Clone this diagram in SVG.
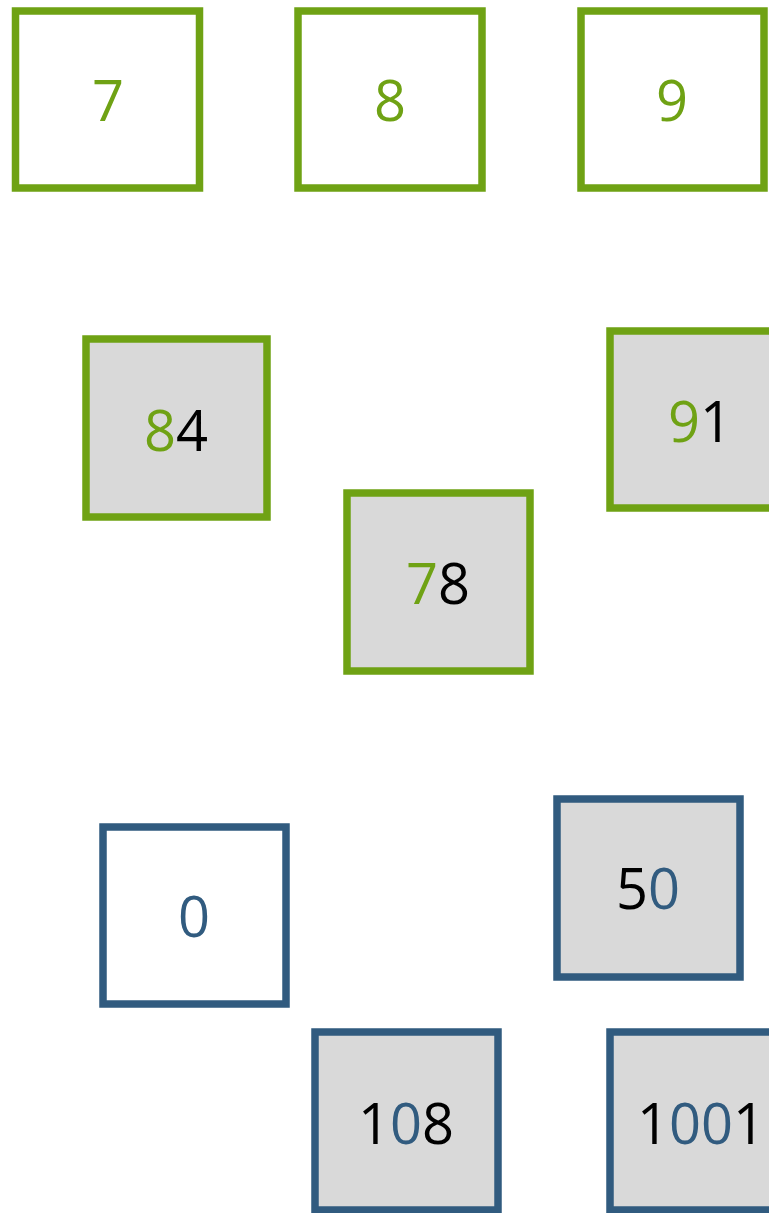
<svg xmlns="http://www.w3.org/2000/svg" width="769" height="1213" viewBox="0 0 769 1213">
<style>
.g{stroke:#6fa214;stroke-width:7.5}
.b{stroke:#315b7f;stroke-width:7.5}
.w{fill:#ffffff}
.f{fill:#d9d9d9}
text{font-family:"Open Sans","Liberation Sans",sans-serif;font-size:56px;text-anchor:middle}
.tk{fill:#000000}
.tg{fill:#6fa214}
.tb{fill:#315b7f}
</style>
<rect width="769" height="1213" fill="#ffffff"/>
<g id="n7"><rect class="g w" x="15.5" y="11" width="184" height="177"/><text x="108" y="121" class="tg">7</text></g>
<g id="n8"><rect class="g w" x="298" y="11" width="184" height="177"/><text x="390" y="121" class="tg">8</text></g>
<g id="n9"><rect class="g w" x="581" y="11" width="183" height="177"/><text x="672" y="121" class="tg">9</text></g>
<g id="n84"><rect class="g f" x="86" y="339" width="181" height="178"/><text x="176" y="451"><tspan class="tg">8</tspan><tspan class="tk">4</tspan></text></g>
<g id="n91"><rect class="g f" x="610" y="331" width="170" height="177"/><text x="700" y="442"><tspan class="tg">9</tspan><tspan class="tk">1</tspan></text></g>
<g id="n78"><rect class="g f" x="347" y="493" width="183" height="178"/><text x="438" y="604"><tspan class="tg">7</tspan><tspan class="tk">8</tspan></text></g>
<g id="n0"><rect class="b w" x="103" y="827" width="183" height="177"/><text x="194" y="937" class="tb">0</text></g>
<g id="n50"><rect class="b f" x="557" y="799" width="183" height="178"/><text x="648" y="909"><tspan class="tk">5</tspan><tspan class="tb">0</tspan></text></g>
<g id="n108"><rect class="b f" x="315" y="1032" width="183" height="178"/><text x="406" y="1144"><tspan class="tk">1</tspan><tspan class="tb">0</tspan><tspan class="tk">8</tspan></text></g>
<g id="n1001"><rect class="b f" x="610" y="1032" width="180" height="178"/><text x="701" y="1144"><tspan class="tk">1</tspan><tspan class="tb">00</tspan><tspan class="tk">1</tspan></text></g>
<g id="connectors"></g>
</svg>
